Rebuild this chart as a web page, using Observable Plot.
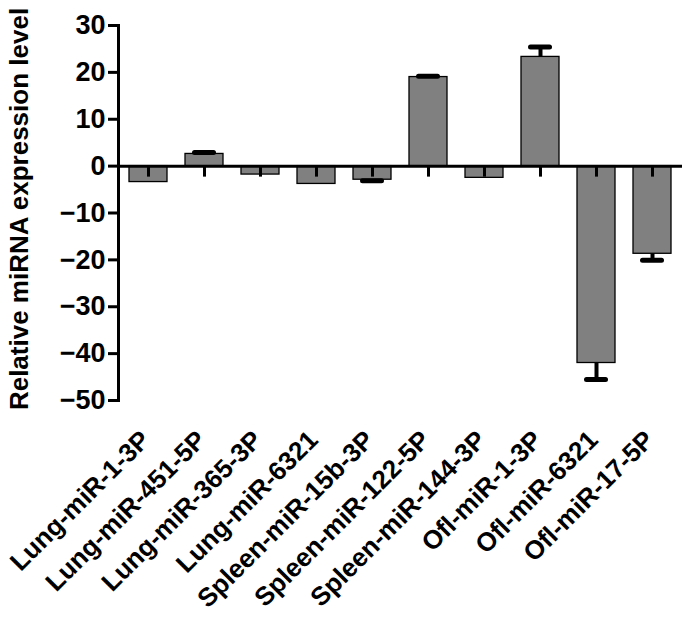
<!DOCTYPE html>
<html>
<head>
<meta charset="utf-8">
<script src="https://cdn.jsdelivr.net/npm/d3@7"></script>
<script src="https://cdn.jsdelivr.net/npm/@observablehq/plot@0.6"></script>
<style>
  html, body { margin: 0; padding: 0; background: #fff; }
  #chart svg { display: block; }
</style>
</head>
<body>
<div id="chart"></div>
<script>
const categories = [
  "Lung-miR-1-3P", "Lung-miR-451-5P", "Lung-miR-365-3P", "Lung-miR-6321",
  "Spleen-miR-15b-3P", "Spleen-miR-122-5P", "Spleen-miR-144-3P",
  "Ofl-miR-1-3P", "Ofl-miR-6321", "Ofl-miR-17-5P"
];
const values = [-3.4, 2.6, -1.8, -3.8, -2.9, 19.0, -2.5, 23.3, -42.0, -18.7];
const errors = [0, 0.3, 0, 0, 0.2, 0.2, 0, 2.1, 3.5, 1.4];
const yTicks = [-50, -40, -30, -20, -10, 0, 10, 20, 30];
const yLabel = "Relative miRNA expression level";

const data = categories.map((name, i) => ({
  name, value: values[i], err: errors[i],
  end: values[i] >= 0 ? values[i] + errors[i] : values[i] - errors[i]
}));
const withErr = data.filter(d => d.err > 0);

const chart = Plot.plot({
  width: 685,
  height: 623,
  marginLeft: 118,
  marginRight: 3,
  marginTop: 25,
  marginBottom: 223,
  style: {fontFamily: "'Liberation Sans', Arial, sans-serif", fontWeight: "bold", color: "black", background: "white", overflow: "visible"},
  x: {domain: categories, paddingInner: 0.33, paddingOuter: 0.18, axis: null},
  y: {domain: [-50, 30]},
  marks: [
    Plot.barY(data, {x: "name", y: "value", fill: "#808080", stroke: "black", strokeWidth: 1.3}),
    Plot.ruleX(withErr, {x: "name", y1: "value", y2: "end", stroke: "black", strokeWidth: 4}),
    Plot.tickY(withErr, {x: "name", y: "end", stroke: "black", strokeWidth: 5, strokeLinecap: "round", inset: 9.5}),
    Plot.ruleY([0], {stroke: "black", strokeWidth: 3}),
    Plot.ruleX(categories, {x: d => d, y1: 0, y2: 0, insetBottom: -11, stroke: "black", strokeWidth: 3}),
    Plot.frame({anchor: "left", stroke: "black", strokeWidth: 3}),
    Plot.axisY({ticks: yTicks, tickSize: 10, tickPadding: 3, fontSize: 27, strokeWidth: 3, label: null}),
    Plot.text(categories, {x: d => d, text: d => d, frameAnchor: "bottom", dx: 3, dy: 41, rotate: -45,
      textAnchor: "end", lineAnchor: "bottom", fontSize: 26, fill: "black"}),
    Plot.text([yLabel], {text: d => d, frameAnchor: "left", rotate: -90, dx: -99, dy: -4,
      textAnchor: "middle", lineAnchor: "middle", fontSize: 26, letterSpacing: 1, fill: "black"})
  ]
});
document.getElementById("chart").appendChild(chart);
</script>
</body>
</html>
